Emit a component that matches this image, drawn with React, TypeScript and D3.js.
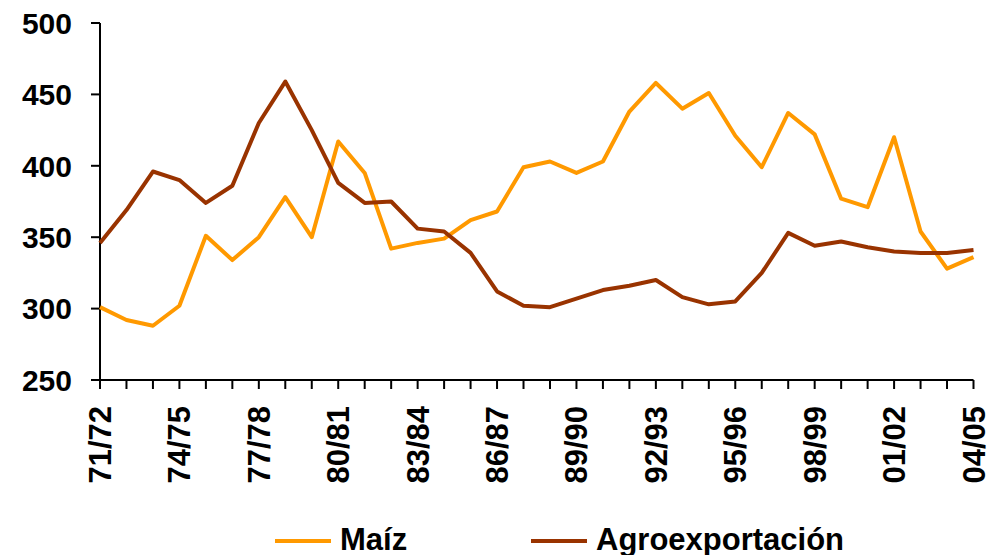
import React from "react";
import * as d3 from "d3";

const seasons = [
  "71/72","72/73","73/74","74/75","75/76","76/77","77/78","78/79","79/80","80/81",
  "81/82","82/83","83/84","84/85","85/86","86/87","87/88","88/89","89/90","90/91",
  "91/92","92/93","93/94","94/95","95/96","96/97","97/98","98/99","99/00","00/01",
  "01/02","02/03","03/04","04/05",
];

const maiz = [
  301, 292, 288, 302, 351, 334, 350, 378, 350, 417,
  395, 342, 346, 349, 362, 368, 399, 403, 395, 403,
  438, 458, 440, 451, 421, 399, 437, 422, 377, 371,
  420, 354, 328, 336,
];

const agro = [
  346, 369, 396, 390, 374, 386, 430, 459, 425, 388,
  374, 375, 356, 354, 339, 312, 302, 301, 307, 313,
  316, 320, 308, 303, 305, 325, 353, 344, 347, 343,
  340, 339, 339, 341,
];

const yTicks = [250, 300, 350, 400, 450, 500];
const labelEvery = 3;

const series = [
  { name: "Maíz", values: maiz, color: "#FF9900" },
  { name: "Agroexportación", values: agro, color: "#993300" },
];

export default function App() {
  const W = 1001, H = 555;
  const x = d3.scalePoint<string>().domain(seasons).range([100, 973.5]);
  const y = d3.scaleLinear().domain([250, 500]).range([380, 23]);
  const line = d3
    .line<number>()
    .x((_, i) => x(seasons[i]) as number)
    .y((d) => y(d));
  const font = "'Liberation Sans', Arial, sans-serif";
  const legendX = [275, 531];

  return (
    <svg
      width={W}
      height={H}
      style={{ position: "absolute", left: 0, top: 0, background: "#fff" }}
    >
      {/* y axis */}
      <line x1={100} x2={100} y1={y(500)} y2={y(250)} stroke="#000" strokeWidth={2} />
      {yTicks.map((t) => (
        <g key={t}>
          <line x1={91} x2={100} y1={y(t)} y2={y(t)} stroke="#000" strokeWidth={2} />
          <text
            x={72}
            y={y(t)}
            dy="0.36em"
            textAnchor="end"
            fontFamily={font}
            fontWeight="bold"
            fontSize={30}
          >
            {t}
          </text>
        </g>
      ))}
      {/* x axis */}
      <line x1={100} x2={x(seasons[seasons.length - 1])} y1={y(250)} y2={y(250)} stroke="#000" strokeWidth={2} />
      {seasons.map((s, i) => (
        <g key={s}>
          <line x1={x(s)} x2={x(s)} y1={y(250)} y2={y(250) + 9} stroke="#000" strokeWidth={2} />
          {i % labelEvery === 0 && (
            <text
              transform={`translate(${(x(s) as number) + 11},406) rotate(-90)`}
              textAnchor="end"
              fontFamily={font}
              fontWeight="bold"
              fontSize={31}
            >
              {s}
            </text>
          )}
        </g>
      ))}
      {/* lines */}
      {series.map((sr) => (
        <path
          key={sr.name}
          d={line(sr.values) || ""}
          fill="none"
          stroke={sr.color}
          strokeWidth={4}
          strokeLinejoin="round"
        />
      ))}
      {/* legend */}
      {series.map((sr, i) => (
        <g key={sr.name}>
          <line
            x1={legendX[i]}
            x2={legendX[i] + 56}
            y1={541}
            y2={541}
            stroke={sr.color}
            strokeWidth={4}
          />
          <text
            x={legendX[i] + 65}
            y={550}
            fontFamily={font}
            fontWeight="bold"
            fontSize={31}
          >
            {sr.name}
          </text>
        </g>
      ))}
    </svg>
  );
}
